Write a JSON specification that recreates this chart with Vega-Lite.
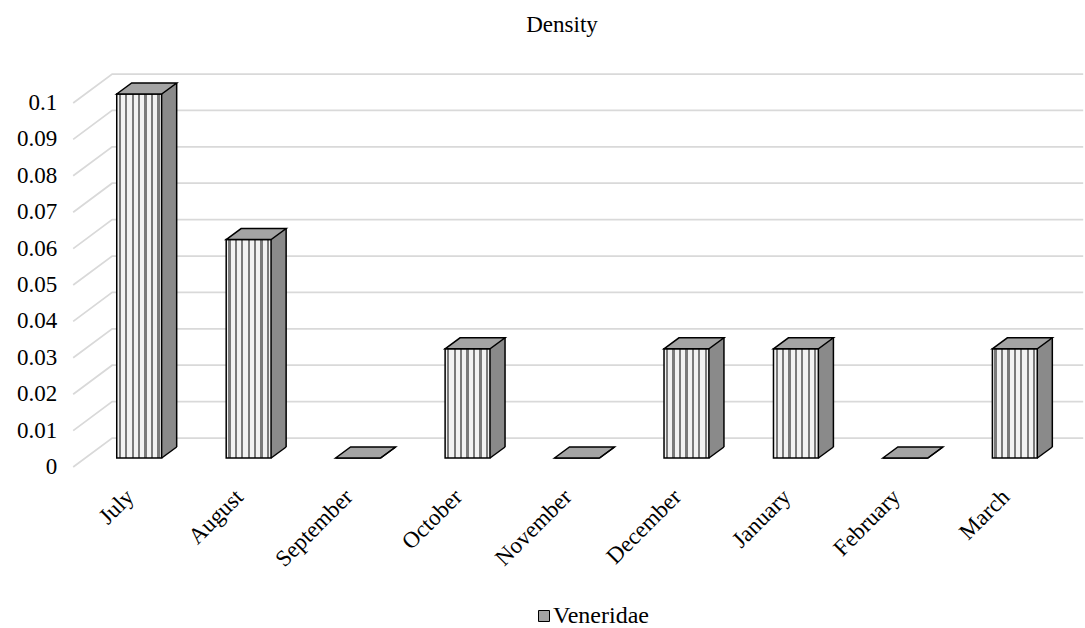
{
  "$schema": "https://vega.github.io/schema/vega-lite/v6.json",
  "width": 984,
  "height": 364,
  "autosize": {"type": "none"},
  "padding": {"left": 85, "top": 94, "right": 16, "bottom": 170},
  "background": "white",
  "config": {
    "view": {"stroke": null},
    "font": "Liberation Serif",
    "axisX": {"domain": false, "ticks": false, "grid": false, "labelOverlap": false, "labelFont": "Liberation Serif", "labelFontSize": 23, "labelColor": "black", "labelAngle": -45, "labelAlign": "right", "labelBaseline": "middle", "labelPadding": 35, "labelOffset": -9, "title": null}
  },
  "title": {"text": "Density", "font": "Liberation Serif", "fontSize": 23, "fontWeight": "normal", "color": "black", "anchor": "middle", "dx": -15, "dy": -30},
  "datasets": {
    "bars": [
      {"month": "July", "density": 0.1, "series": "Veneridae"},
      {"month": "August", "density": 0.06, "series": "Veneridae"},
      {"month": "September", "density": 0, "series": "Veneridae"},
      {"month": "October", "density": 0.03, "series": "Veneridae"},
      {"month": "November", "density": 0, "series": "Veneridae"},
      {"month": "December", "density": 0.03, "series": "Veneridae"},
      {"month": "January", "density": 0.03, "series": "Veneridae"},
      {"month": "February", "density": 0, "series": "Veneridae"},
      {"month": "March", "density": 0.03, "series": "Veneridae"}
    ],
    "grid": [
      {"tick": 0}, {"tick": 0.01}, {"tick": 0.02}, {"tick": 0.03}, {"tick": 0.04}, {"tick": 0.05},
      {"tick": 0.06}, {"tick": 0.07}, {"tick": 0.08}, {"tick": 0.09}, {"tick": 0.1}
    ]
  },
  "resolve": {"scale": {"x": "shared", "y": "shared"}},
  "layer": [
    {
      "data": {"name": "grid"},
      "mark": {"type": "point", "shape": "M-66,9L-27,-20L944,-20", "size": 4, "filled": false, "stroke": "#d9d9d9", "strokeWidth": 1.75, "opacity": 1},
      "encoding": {
        "x": {"datum": "July", "type": "nominal", "scale": {"domain": ["July", "August", "September", "October", "November", "December", "January", "February", "March"], "paddingInner": 0.59, "paddingOuter": 0.29}},
        "y": {"field": "tick", "type": "quantitative", "axis": null, "scale": {"domain": [0, 0.1], "nice": false, "zero": true}}
      }
    },
    {
      "data": {"name": "grid"},
      "mark": {"type": "text", "align": "right", "baseline": "middle", "dx": -82, "dy": 9, "font": "Liberation Serif", "fontSize": 23, "color": "black"},
      "encoding": {
        "x": {"datum": "July", "type": "nominal"},
        "y": {"field": "tick", "type": "quantitative"},
        "text": {"field": "tick", "type": "quantitative", "format": ".2~f"}
      }
    },
    {
      "data": {"name": "bars"},
      "mark": {"type": "bar", "width": 15, "xOffset": 30, "yOffset": -11, "fill": "#8a8a8a", "strokeWidth": 0},
      "encoding": {
        "x": {"field": "month", "type": "nominal", "sort": null},
        "y": {"field": "density", "type": "quantitative", "stack": null}
      }
    },
    {
      "data": {"name": "bars"},
      "mark": {"type": "point", "shape": "M21.1,1L39,1L39,-12.1Z", "size": 4, "filled": true, "fill": "white", "strokeWidth": 0, "opacity": 1},
      "encoding": {
        "x": {"field": "month", "type": "nominal", "sort": null},
        "y": {"datum": 0, "type": "quantitative"}
      }
    },
    {
      "data": {"name": "bars"},
      "mark": {"type": "bar", "stroke": "black", "strokeWidth": 1.5, "opacity": 1,
        "fill": {"gradient": "linear", "x1": 0, "y1": 0, "x2": 1, "y2": 0, "stops": [
          {"offset": 0, "color": "#f2f2f2"},
          {"offset": 0.046, "color": "#f2f2f2"}, {"offset": 0.046, "color": "#7a7a7a"}, {"offset": 0.096, "color": "#7a7a7a"}, {"offset": 0.096, "color": "#f2f2f2"},
          {"offset": 0.189, "color": "#f2f2f2"}, {"offset": 0.189, "color": "#7a7a7a"}, {"offset": 0.239, "color": "#7a7a7a"}, {"offset": 0.239, "color": "#f2f2f2"},
          {"offset": 0.332, "color": "#f2f2f2"}, {"offset": 0.332, "color": "#7a7a7a"}, {"offset": 0.382, "color": "#7a7a7a"}, {"offset": 0.382, "color": "#f2f2f2"},
          {"offset": 0.475, "color": "#f2f2f2"}, {"offset": 0.475, "color": "#7a7a7a"}, {"offset": 0.525, "color": "#7a7a7a"}, {"offset": 0.525, "color": "#f2f2f2"},
          {"offset": 0.618, "color": "#f2f2f2"}, {"offset": 0.618, "color": "#7a7a7a"}, {"offset": 0.668, "color": "#7a7a7a"}, {"offset": 0.668, "color": "#f2f2f2"},
          {"offset": 0.761, "color": "#f2f2f2"}, {"offset": 0.761, "color": "#7a7a7a"}, {"offset": 0.811, "color": "#7a7a7a"}, {"offset": 0.811, "color": "#f2f2f2"},
          {"offset": 0.904, "color": "#f2f2f2"}, {"offset": 0.904, "color": "#7a7a7a"}, {"offset": 0.954, "color": "#7a7a7a"}, {"offset": 0.954, "color": "#f2f2f2"},
          {"offset": 1, "color": "#f2f2f2"}
        ]}},
      "encoding": {
        "x": {"field": "month", "type": "nominal", "sort": null, "axis": {"title": null, "labelOverlap": false}},
        "y": {"field": "density", "type": "quantitative", "stack": null}
      }
    },
    {
      "data": {"name": "bars"},
      "mark": {"type": "point", "shape": "M-22.5,0L-7.5,-11L37.5,-11L22.5,0Z", "size": 4, "filled": true, "stroke": "black", "strokeWidth": 1.5, "opacity": 1},
      "encoding": {
        "x": {"field": "month", "type": "nominal", "sort": null},
        "y": {"field": "density", "type": "quantitative"},
        "color": {"field": "series", "type": "nominal", "scale": {"range": ["#a4a4a4"]}, "legend": {"orient": "none", "legendX": 447, "legendY": 510, "title": null, "symbolType": "square", "symbolSize": 121, "symbolStrokeColor": "black", "symbolStrokeWidth": 1, "labelFont": "Liberation Serif", "labelFontSize": 24, "labelColor": "black", "labelOffset": -3}}
      }
    },
    {
      "data": {"name": "bars"},
      "mark": {"type": "rule", "xOffset": 37.5, "yOffset": -11, "y2Offset": -11, "stroke": "black", "strokeWidth": 1.5},
      "encoding": {
        "x": {"field": "month", "type": "nominal", "sort": null},
        "y": {"field": "density", "type": "quantitative"},
        "y2": {"datum": 0}
      }
    },
    {
      "data": {"name": "bars"},
      "mark": {"type": "point", "shape": "M22.5,0L37.5,-11", "size": 4, "filled": false, "stroke": "black", "strokeWidth": 1.5, "opacity": 1},
      "encoding": {
        "x": {"field": "month", "type": "nominal", "sort": null},
        "y": {"datum": 0, "type": "quantitative"}
      }
    }
  ]
}
